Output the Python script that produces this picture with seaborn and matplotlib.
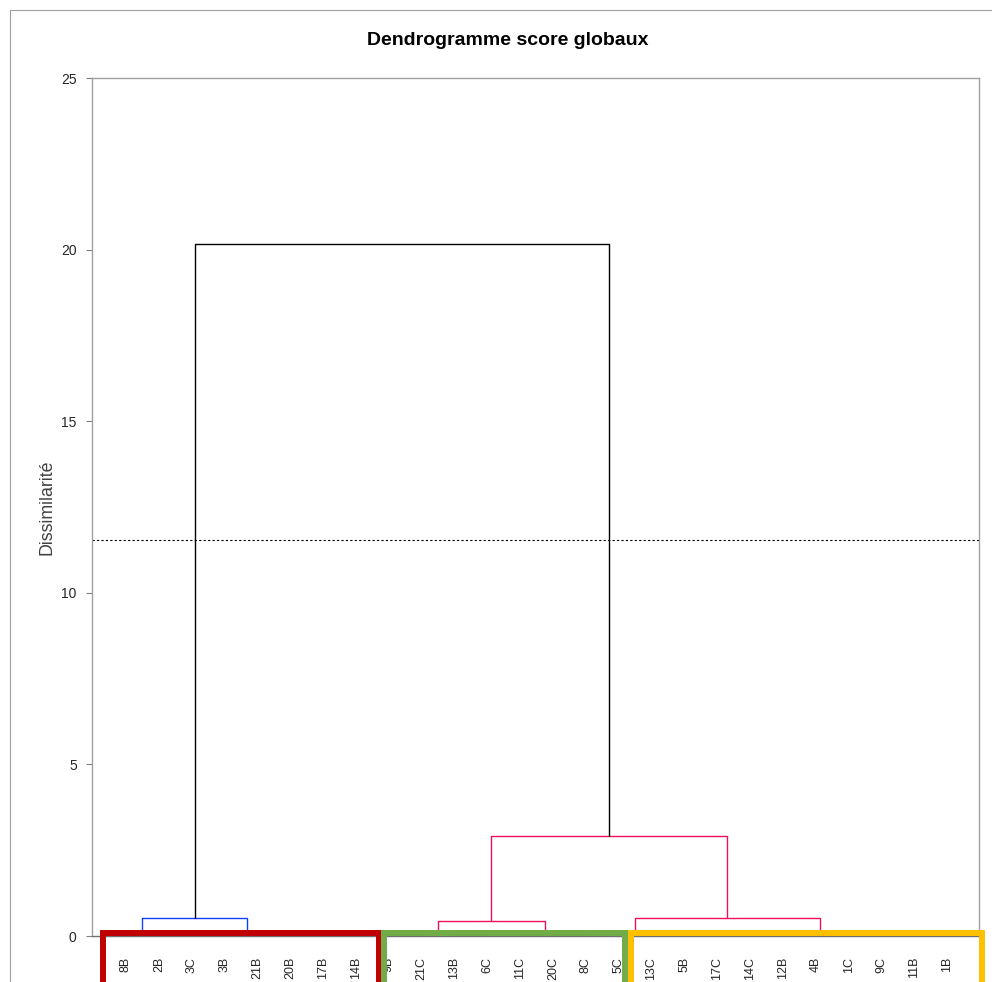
import seaborn as sns
import matplotlib.pyplot as plt
import matplotlib.patches as patches
import matplotlib.transforms as mtransforms
import pandas as pd

# DATA
leaves = ['8B', '2B', '3C', '3B', '21B', '20B', '17B', '14B',
          '9B', '21C', '13B', '6C', '11C', '20C', '8C', '5C',
          '13C', '5B', '17C', '14C', '12B', '4B', '1C', '9C', '11B', '1B']

# merges: name -> (left, right, height, colour group)
merge_names = ['m1', 'm2', 'm3', 'm4', 'm5', 'm6', 'm7', 'm8', 'm9', 'm10', 'm11', 'm12',
               'm13', 'm14', 'm15', 'm16', 'm17', 'm18', 'm19', 'm20', 'm21', 'm22',
               'm23', 'm24', 'm25']
merge_left = ['8B', '3C', '17B', '20B', '21B', 'm2', 'm1', '9B', '13B', 'm8', '20C', '11C',
              'm10', '5C', '5B', 'm15', '12B', 'm16', '11B', '9C', '1C', 'm18',
              'm14', 'm13', 'm7']
merge_right = ['2B', '3B', '14B', 'm3', 'm4', 'm5', 'm6', '21C', '6C', 'm9', '8C', 'm11',
               'm12', '13C', '17C', '14C', '4B', 'm17', '1B', 'm19', 'm20', 'm21',
               'm22', 'm23', 'm24']
merge_height = [0.03, 0.02, 0.01, 0.02, 0.04, 0.05, 0.52, 0.02, 0.02, 0.05, 0.02, 0.04,
                0.43, 0.03, 0.01, 0.02, 0.02, 0.04, 0.01, 0.02, 0.03, 0.06,
                0.52, 2.92, 20.15]
merge_group = ['a', 'a', 'a', 'a', 'a', 'a', 'a', 'b', 'b', 'b', 'b', 'b',
               'b', 'b', 'b', 'b', 'b', 'b', 'b', 'b', 'b', 'b',
               'b', 'b', 'c']

cut_level = 11.55

# boxes round the groups (first leaf, last leaf)
box_first = ['8B', '9B', '13C']
box_last = ['14B', '5C', '1B']
box_colors = ['#C00000', '#70AD47', '#FFC000']
box_pad_left = [0.70, 0.13, 0.62]
box_pad_right = [0.70, 0.19, 1.07]

# BUILD SEGMENTS OF THE TREE
pos = {name: i for i, name in enumerate(leaves)}
hgt = {name: 0.0 for name in leaves}
rows = []
for k, name in enumerate(merge_names):
    a, b, h = merge_left[k], merge_right[k], merge_height[k]
    xa, xb = pos[a], pos[b]
    for px, py in [(xa, hgt[a]), (xa, h), (xb, h), (xb, hgt[b])]:
        rows.append({'link': name, 'x': px, 'y': py, 'grp': merge_group[k]})
    pos[name] = (xa + xb) / 2
    hgt[name] = h
segdf = pd.DataFrame(rows)

# PLOT
sns.set_theme(style='white')
plt.rcParams['font.family'] = ['Liberation Sans', 'DejaVu Sans']

fig = plt.figure(figsize=(9.92, 9.82), dpi=100)
ax = fig.add_axes([92 / 992, 1 - 936 / 982, (979 - 92) / 992, (936 - 78) / 982])

sns.lineplot(data=segdf, x='x', y='y', units='link', hue='grp', estimator=None, sort=False,
             palette={'a': '#1040FF', 'b': '#F0105A', 'c': '#000000'},
             linewidth=1, legend=False, ax=ax)

ax.axhline(cut_level, color='black', linestyle=(0, (2, 2)), linewidth=0.8)

ax.set_xlim(-1.035, 25.97)
ax.set_ylim(0, 25)
ax.set_yticks([0, 5, 10, 15, 20, 25])
ax.set_xticks(range(len(leaves)))
ax.set_xticklabels(leaves, rotation=90, fontsize=9, color='#262626')
ax.tick_params(axis='x', length=0, pad=15)
ax.tick_params(axis='y', length=4, width=0.8, color='#808080', pad=7, labelsize=10,
               labelcolor='#262626', left=True)
ax.set_xlabel('')
ax.set_ylabel('')
for side in ['left', 'top', 'right', 'bottom']:
    ax.spines[side].set_color('#A0A0A0')
    ax.spines[side].set_linewidth(1)
ax.spines['bottom'].set_color('#707070')

# GROUP BOXES
trans = mtransforms.blended_transform_factory(ax.transData, ax.transAxes)
for k in range(len(box_first)):
    x0 = leaves.index(box_first[k]) - box_pad_left[k]
    x1 = leaves.index(box_last[k]) + box_pad_right[k]
    rect = patches.Rectangle((x0, -0.2), x1 - x0, 0.2 + 0.004, transform=trans,
                             fill=False, edgecolor=box_colors[k], linewidth=4.3,
                             clip_on=False, zorder=5)
    ax.add_patch(rect)

# OUTER CHART BORDER
fig.patches.append(patches.Rectangle((10 / 992, -0.1), 1.1, 1.1 - 10 / 982,
                                     transform=fig.transFigure, fill=False,
                                     edgecolor='#A0A0A0', linewidth=0.8))

fig.text(508 / 992, 1 - 41 / 982, 'Dendrogramme score globaux', ha='center', va='center',
         fontsize=14, fontweight='bold', color='black')
fig.text(47 / 992, 1 - 507 / 982, 'Dissimilarité', rotation=90, ha='center', va='center',
         fontsize=12.8, color='#404040')

fig.savefig('out.png', dpi=100)
